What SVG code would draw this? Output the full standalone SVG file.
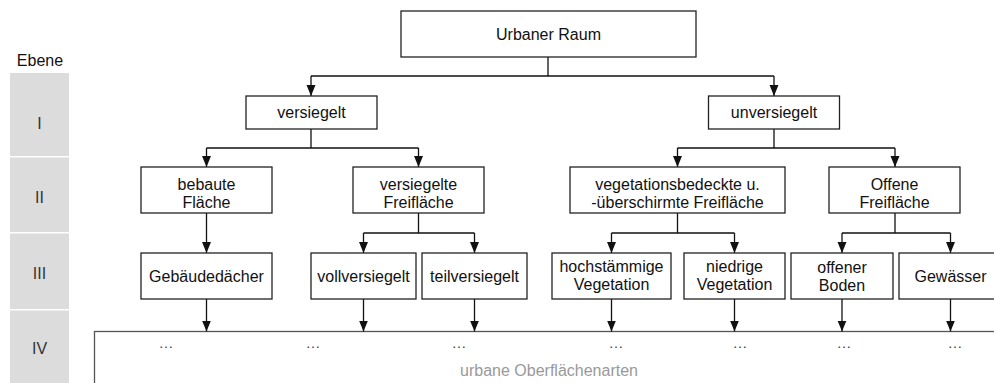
<svg xmlns="http://www.w3.org/2000/svg" width="994" height="383" viewBox="0 0 994 383">
<style>
  text { font-family: "Liberation Sans", Arial, sans-serif; font-size: 16px; fill: #111; text-anchor: middle; }
  .box { fill: #fff; stroke: #222; stroke-width: 1.3; }
  .lvl { fill: #dcdcdc; }
  .lvltxt { fill: #333; }
  .conn { fill: none; stroke: #111; stroke-width: 1.3; }
  .dots { fill: #444; font-size: 15px; }
  .caption { fill: #999; }
</style>
<defs>
  <marker id="arr" markerUnits="userSpaceOnUse" markerWidth="12" markerHeight="10" refX="11" refY="4.5" orient="auto">
    <path d="M0,0 L11,4.5 L0,9 Z" fill="#111"/>
  </marker>
</defs>

<g id="levels">
  <text x="40" y="66">Ebene</text>
  <rect class="lvl" x="10" y="73" width="59" height="83"/>
  <rect class="lvl" x="10" y="157.5" width="59" height="74.5"/>
  <rect class="lvl" x="10" y="233.5" width="59" height="75.5"/>
  <rect class="lvl" x="10" y="310.5" width="59" height="80"/>
  <text class="lvltxt" x="39.5" y="128.5">I</text>
  <text class="lvltxt" x="39.5" y="203">II</text>
  <text class="lvltxt" x="39.5" y="279">III</text>
  <text class="lvltxt" x="39.5" y="354">IV</text>
</g>

<g id="surface-types">
  <rect x="94.5" y="331.5" width="960" height="100" fill="#fff" stroke="#555" stroke-width="1.3"/>
  <text class="dots" x="166" y="348">…</text>
  <text class="dots" x="313" y="348">…</text>
  <text class="dots" x="459" y="348">…</text>
  <text class="dots" x="616" y="348">…</text>
  <text class="dots" x="740" y="348">…</text>
  <text class="dots" x="844" y="348">…</text>
  <text class="dots" x="955" y="348">…</text>
  <text class="caption" x="549" y="376">urbane Oberflächenarten</text>
</g>

<g id="connectors">
  <path class="conn" d="M548,57 V76 M311,76 H774"/>
  <path class="conn" d="M311,76 V96" marker-end="url(#arr)"/>
  <path class="conn" d="M774,76 V96" marker-end="url(#arr)"/>

  <path class="conn" d="M311,129 V148 M206.5,148 H418.5"/>
  <path class="conn" d="M206.5,148 V167" marker-end="url(#arr)"/>
  <path class="conn" d="M418.5,148 V167" marker-end="url(#arr)"/>

  <path class="conn" d="M774,129 V148 M677.5,148 H895"/>
  <path class="conn" d="M677.5,148 V167" marker-end="url(#arr)"/>
  <path class="conn" d="M895,148 V167" marker-end="url(#arr)"/>

  <path class="conn" d="M206.5,213 V253" marker-end="url(#arr)"/>

  <path class="conn" d="M418.5,213 V233 M363.5,233 H474.5"/>
  <path class="conn" d="M363.5,233 V253" marker-end="url(#arr)"/>
  <path class="conn" d="M474.5,233 V253" marker-end="url(#arr)"/>

  <path class="conn" d="M677.5,213 V233 M611.5,233 H734.5"/>
  <path class="conn" d="M611.5,233 V253" marker-end="url(#arr)"/>
  <path class="conn" d="M734.5,233 V253" marker-end="url(#arr)"/>

  <path class="conn" d="M895,213 V233 M842,233 H950.5"/>
  <path class="conn" d="M842,233 V253" marker-end="url(#arr)"/>
  <path class="conn" d="M950.5,233 V253" marker-end="url(#arr)"/>

  <path class="conn" d="M206.5,299 V331.5" marker-end="url(#arr)"/>
  <path class="conn" d="M363.5,299 V331.5" marker-end="url(#arr)"/>
  <path class="conn" d="M474.5,299 V331.5" marker-end="url(#arr)"/>
  <path class="conn" d="M611.5,299 V331.5" marker-end="url(#arr)"/>
  <path class="conn" d="M734.5,299 V331.5" marker-end="url(#arr)"/>
  <path class="conn" d="M842,299 V331.5" marker-end="url(#arr)"/>
  <path class="conn" d="M950.5,299 V331.5" marker-end="url(#arr)"/>
</g>

<g id="urbaner-raum">
  <rect class="box" x="401" y="11" width="295" height="46"/>
  <text x="548.5" y="40">Urbaner Raum</text>
</g>
<g id="versiegelt">
  <rect class="box" x="246" y="96" width="131" height="33"/>
  <text x="311.5" y="118">versiegelt</text>
</g>
<g id="unversiegelt">
  <rect class="box" x="708.5" y="96" width="131" height="33"/>
  <text x="774" y="118">unversiegelt</text>
</g>
<g id="bebaute-flaeche">
  <rect class="box" x="141" y="167" width="131" height="46"/>
  <text x="206.5" y="190">bebaute</text>
  <text x="206.5" y="208">Fläche</text>
</g>
<g id="versiegelte-freiflaeche">
  <rect class="box" x="353" y="167" width="131" height="46"/>
  <text x="418.5" y="190">versiegelte</text>
  <text x="418.5" y="208">Freifläche</text>
</g>
<g id="vegetationsbedeckte-freiflaeche">
  <rect class="box" x="570" y="167" width="215" height="46"/>
  <text x="677.5" y="190">vegetationsbedeckte u.</text>
  <text x="677.5" y="208">-überschirmte Freifläche</text>
</g>
<g id="offene-freiflaeche">
  <rect class="box" x="829" y="167" width="131" height="46"/>
  <text x="894.5" y="190">Offene</text>
  <text x="894.5" y="208">Freifläche</text>
</g>
<g id="gebaeudedaecher">
  <rect class="box" x="141" y="253" width="131" height="46"/>
  <text x="206.5" y="282">Gebäudedächer</text>
</g>
<g id="vollversiegelt">
  <rect class="box" x="311" y="253" width="105" height="46"/>
  <text x="363.5" y="282">vollversiegelt</text>
</g>
<g id="teilversiegelt">
  <rect class="box" x="422" y="253" width="105" height="46"/>
  <text x="474.5" y="282">teilversiegelt</text>
</g>
<g id="hochstaemmige-vegetation">
  <rect class="box" x="552" y="253" width="119" height="46"/>
  <text x="611.5" y="272">hochstämmige</text>
  <text x="611.5" y="290">Vegetation</text>
</g>
<g id="niedrige-vegetation">
  <rect class="box" x="684" y="253" width="101" height="46"/>
  <text x="734.5" y="272">niedrige</text>
  <text x="734.5" y="290">Vegetation</text>
</g>
<g id="offener-boden">
  <rect class="box" x="791" y="253" width="102" height="46"/>
  <text x="842" y="273">offener</text>
  <text x="842" y="291">Boden</text>
</g>
<g id="gewaesser">
  <rect class="box" x="899" y="253" width="103" height="46"/>
  <text x="950.5" y="282">Gewässer</text>
</g>
</svg>
